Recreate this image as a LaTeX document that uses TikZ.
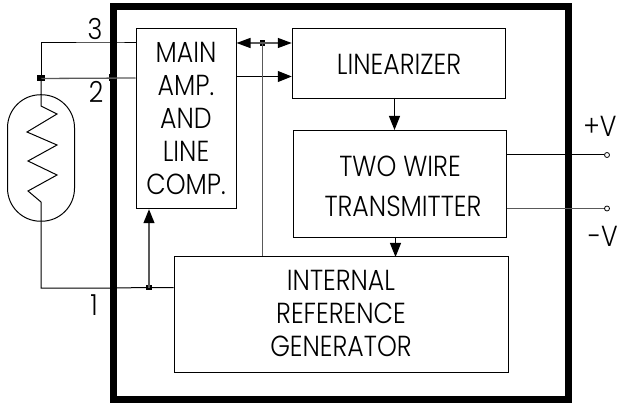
\documentclass[tikz,border=0pt]{standalone}
\usepackage{fontspec}
\setmainfont[FakeStretch=0.87]{Poppins Light}
\usetikzlibrary{arrows.meta,calc}
\tikzset{
 blockbox/.style={draw=black,line width=1pt,fill=white,rectangle,inner sep=0pt,align=center,font=\fontsize{29}{33}\selectfont},
 lab/.style={inner sep=0pt,font=\fontsize{29}{30}\selectfont},
 wire/.style={line width=1pt,black},
 gwire/.style={line width=1.3pt,black!65},
 arr/.style={-{Triangle[length=14pt,width=11pt,fill=black,color=black]}},
 darr/.style={{Triangle[length=14pt,width=10pt,fill=black,color=black]}-{Triangle[length=14pt,width=10pt,fill=black,color=black]}},
 dot/.style={fill=black,rectangle,inner sep=0pt,minimum size=5.5pt},
 term/.style={draw=black,fill=white,circle,inner sep=0pt,minimum size=5pt,line width=.8pt},
}
\begin{document}
\begin{tikzpicture}[x=1pt,y=-1pt]
\useasboundingbox (0,0) rectangle (618,403);
\node[draw=black,line width=7pt,minimum width=455pt,minimum height=392pt,inner sep=0pt] (frame) at (340.5,203) {};
\node[draw=black,line width=1pt,rectangle,rounded corners=33pt,minimum width=67pt,minimum height=126.5pt,inner sep=0pt] (sensor) at (41,158) {};
\node[blockbox,minimum width=100pt,minimum height=180.5pt] (main) at (186,118.5) {MAIN\\AMP.\\AND\\LINE\\COMP.};
\node[blockbox,minimum width=213.5pt,minimum height=69.5pt] (lin) at (399,63.5) {\rule{0pt}{22pt}LINEARIZER};
\node[blockbox,minimum width=213pt,minimum height=107.5pt] (twt) at (400,184) {\rule{0pt}{26pt}TWO WIRE\\[7pt]\hspace*{6pt}TRANSMITTER};
\node[blockbox,minimum width=334pt,minimum height=115pt] (irg) at (341,314.5) {INTERNAL\\REFERENCE\\GENERATOR\rule[-3pt]{0pt}{3pt}};
\node[dot,minimum width=8pt,minimum height=6pt] (d2) at (41,78.5) {};
\node[dot] (p3) at (113,43) {};
\node[dot,minimum width=8pt,minimum height=7pt] (p2) at (113,78) {};
\node[dot] (p1) at (113,288) {};
\node[dot] (dr) at (262.5,43) {};
\node[dot] (db) at (149,287.5) {};
\node[term] (tp) at (607,155) {};
\node[term] (tm) at (607,208.5) {};
\node[lab] (l3) at (95,29) {3};
\node[lab] (l2) at (96,92) {2};
\node[lab] (l1) at (94,305) {1};
\node[lab] (lp) at (600,126) {+V};
\node[lab] (lm) at (603,236) {-V};
\coordinate (c3) at (41,43);
\coordinate (c1) at (41,288);
\coordinate (z0) at (41,106);
\coordinate (z7) at (41,202);
% wires
\draw[wire] (main.west |- p3) -- (p3.center) -- (c3) -- (d2.center);
\draw[gwire] (d2.center) -- (main.west |- p2);
\draw[wire] (d2.center) -- (z0) -- (57,114) -- (27,132) -- (57,145) -- (28,161) -- (57,175) -- (28,191) -- (z7) -- (c1) -- (p1.center) -- (db.center) -- (irg.west |- db);
\draw[gwire,arr] (db.center) -- (db |- main.south);
\draw[wire,arr] (main.east |- 0,76.5) -- (lin.west |- 0,76.5);
\draw[gwire,darr] (main.east |- dr) -- (lin.west |- dr);
\draw[gwire] (dr.center) -- (dr |- irg.north);
\draw[wire,arr] (394.5,98) -- (394.5,130);
\draw[wire,arr] (395.5,237.5) -- (395.5,257);
\draw[wire] (twt.east |- tp) -- (tp);
\draw[gwire] (twt.east |- tm) -- (tm);
\end{tikzpicture}
\end{document}
